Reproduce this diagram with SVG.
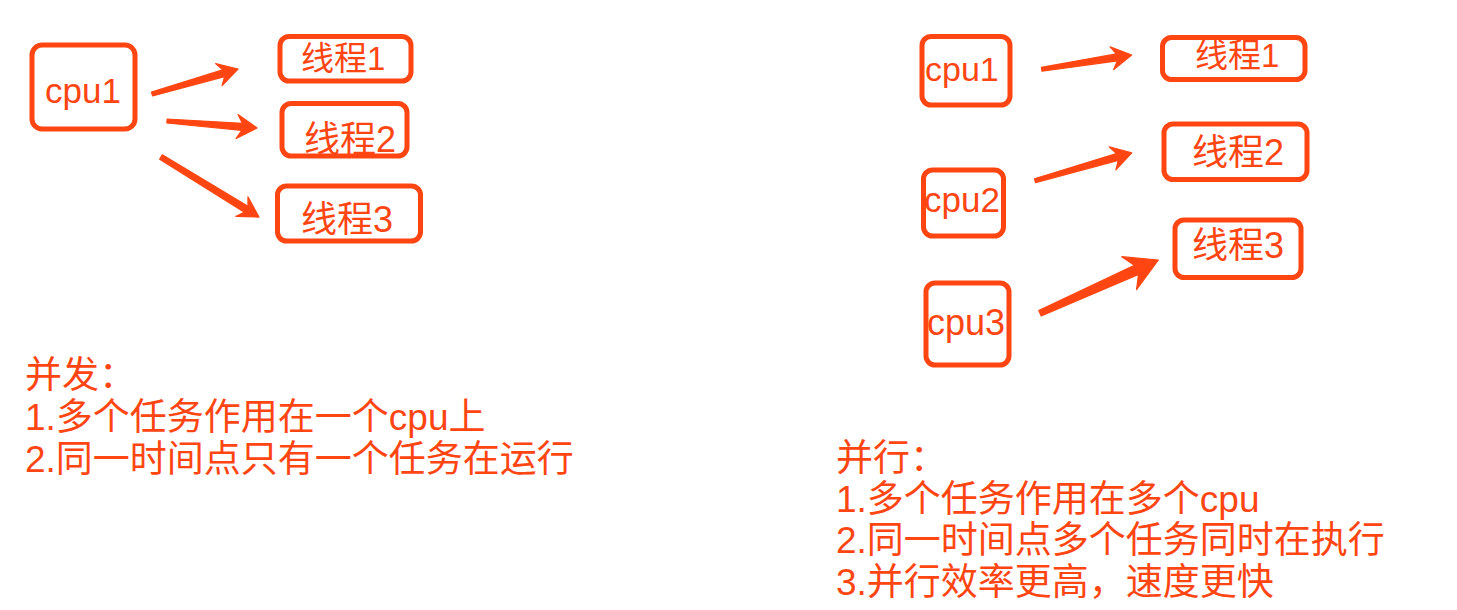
<svg xmlns="http://www.w3.org/2000/svg" width="1457" height="610" viewBox="0 0 1457 610">
<style>
.box{fill:#ffffff;stroke:#ff4612;stroke-width:5}
.lbl{font-family:"Liberation Sans","Noto Sans CJK SC",sans-serif;fill:#ff4612}
.txt{font-family:"Liberation Sans","Noto Sans CJK SC",sans-serif;fill:#ff4612;font-size:37px}
.arr{fill:#ff4612;stroke:#ff4612;stroke-width:1.2;stroke-linejoin:round}
</style>
<rect width="1457" height="610" fill="#ffffff"/>
<g id="left-cpu1"><rect class="box" x="32" y="45" width="103" height="84" rx="10"/><text class="lbl" x="45" y="103" font-size="35">cpu1</text></g>
<g id="left-t1"><rect class="box" x="280" y="36.5" width="131" height="44.5" rx="9"/><text class="lbl" x="301" y="69.5" font-size="33">线程1</text></g>
<g id="left-t2"><rect class="box" x="282" y="103.5" width="125" height="52.5" rx="9"/><text class="lbl" x="304" y="151.5" font-size="36">线程2</text></g>
<g id="left-t3"><rect class="box" x="277.5" y="186" width="143" height="55" rx="9"/><text class="lbl" x="301" y="231.5" font-size="36">线程3</text></g>
<g id="right-cpu1"><rect class="box" x="922" y="36.5" width="88" height="68.5" rx="9"/><text class="lbl" x="925" y="80.7" font-size="34">cpu1</text></g>
<g id="right-cpu2"><rect class="box" x="923.5" y="170" width="80" height="66" rx="9"/><text class="lbl" x="924" y="211.7" font-size="35">cpu2</text></g>
<g id="right-cpu3"><rect class="box" x="926" y="283" width="83" height="82" rx="9"/><text class="lbl" x="927" y="335" font-size="36">cpu3</text></g>
<g id="right-t1"><rect class="box" x="1162.5" y="37.5" width="142.5" height="42" rx="9"/><text class="lbl" x="1195" y="67.3" font-size="33">线程1</text></g>
<g id="right-t2"><rect class="box" x="1164" y="124" width="143" height="55.5" rx="9"/><text class="lbl" x="1192" y="165" font-size="36">线程2</text></g>
<g id="right-t3"><rect class="box" x="1175" y="220" width="126" height="57.5" rx="9"/><text class="lbl" x="1192" y="257.7" font-size="36">线程3</text></g>
<g id="connectors">
<path class="arr" transform="translate(152,94) rotate(-16.2)" d="M0,-2 L74.6,-3.5 L69.6,-11.5 L89.6,0 L69.6,11.5 L74.6,3.5 L0,2 Z"/>
<path class="arr" transform="translate(167,121) rotate(4.45)" d="M0,-2 L75.3,-3.5 L70.3,-12 L90.3,0 L70.3,12 L75.3,3.5 L0,2 Z"/>
<path class="arr" transform="translate(161,157) rotate(31.5)" d="M0,-2.5 L99.9,-3.5 L94.9,-11.5 L114.9,0 L94.9,11.5 L99.9,3.5 L0,2.5 Z"/>
<path class="arr" transform="translate(1041.7,69.3) rotate(-9)" d="M0,-2 L76.1,-3.5 L71.1,-11.5 L91.1,0 L71.1,11.5 L76.1,3.5 L0,2 Z"/>
<path class="arr" transform="translate(1035,180.7) rotate(-16.1)" d="M0,-2 L85.7,-3.5 L80.7,-12 L100.7,0 L80.7,12 L85.7,3.5 L0,2 Z"/>
<path class="arr" transform="translate(1040,313.3) rotate(-24.25)" d="M0,-3 L105.8,-5 L97.8,-18 L129.8,0 L97.8,18 L105.8,5 L0,3 Z"/>
</g>
<g id="notes-left">
<text class="txt" x="25" y="388">并发：</text>
<text class="txt" x="25" y="430">1.多个任务作用在一个cpu上</text>
<text class="txt" x="25" y="472">2.同一时间点只有一个任务在运行</text>
</g>
<g id="notes-right">
<text class="txt" x="836" y="471">并行：</text>
<text class="txt" x="836" y="512">1.多个任务作用在多个cpu</text>
<text class="txt" x="836" y="553">2.同一时间点多个任务同时在执行</text>
<text class="txt" x="836" y="595">3.并行效率更高，速度更快</text>
</g>
</svg>
